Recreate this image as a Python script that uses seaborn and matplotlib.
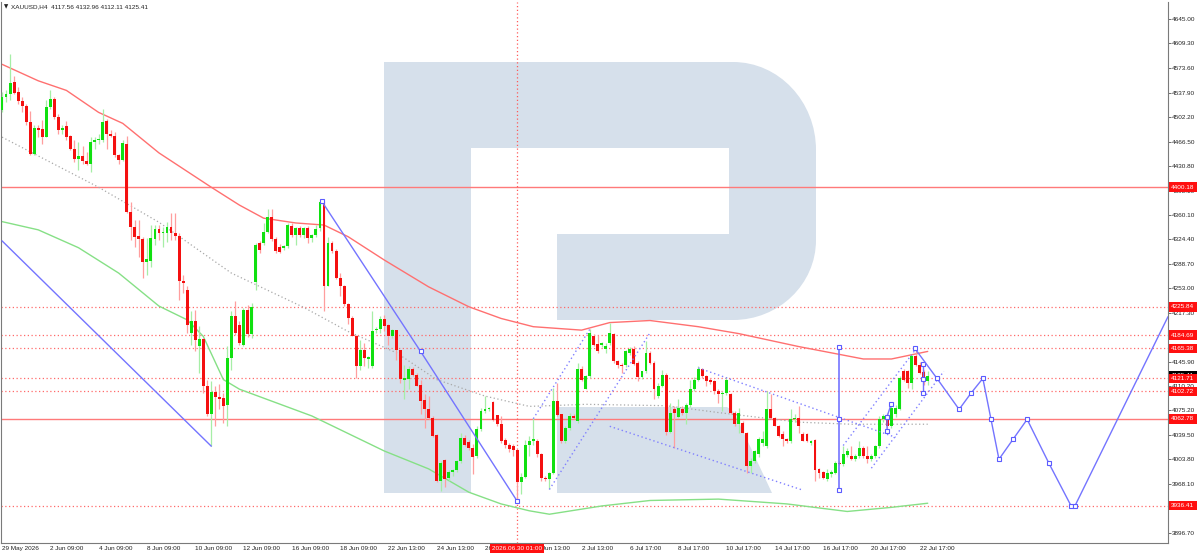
import numpy as np
import pandas as pd
import seaborn as sns
import matplotlib.pyplot as plt
from matplotlib.path import Path
from matplotlib.patches import PathPatch, Polygon

sns.set_style('white')
plt.rcParams['font.family'] = ['Liberation Sans', 'DejaVu Sans']

# H4 candles, XAUUSD
opens = [4511.9, 4531.3, 4536.1, 4553.0, 4538.5, 4525.0, 4518.2, 4495.0, 4449.0, 4486.8,
         4485.3, 4473.2, 4516.8, 4528.9, 4502.2, 4483.9, 4488.7, 4474.2, 4456.3, 4441.8,
         4445.2, 4438.4, 4434.5, 4466.0, 4468.4, 4469.4, 4496.0, 4478.1, 4474.7, 4446.6,
         4439.4, 4463.5, 4364.4, 4341.7, 4329.1, 4325.2, 4291.4, 4293.3, 4325.2, 4338.8,
         4333.0, 4333.9, 4342.6, 4333.0, 4329.1, 4262.8, 4250.7, 4187.8, 4204.8, 4169.5,
         4179.1, 4110.5, 4069.4, 4101.7, 4095.0, 4093.5, 4082.4, 4151.6, 4212.0, 4199.9,
         4170.9, 4221.7, 4186.0, 4262.0, 4318.9, 4318.9, 4334.9, 4356.0, 4324.7, 4312.6,
         4311.2, 4315.0, 4344.1, 4330.5, 4340.2, 4330.5, 4340.2, 4325.7, 4330.5, 4340.2,
         4378.9, 4256.5, 4318.4, 4307.8, 4268.6, 4256.5, 4230.4, 4209.6, 4184.0, 4139.5,
         4162.7, 4150.6, 4139.5, 4191.7, 4194.1, 4208.2, 4199.9, 4183.0, 4192.7, 4162.7,
         4120.1, 4121.1, 4135.6, 4127.4, 4111.4, 4090.1, 4076.6, 4064.5, 4038.9, 3972.6,
         4003.1, 3977.4, 3985.6, 3988.6, 4001.6, 4035.5, 4029.2, 4020.9, 4008.9, 4047.6,
         4074.2, 4076.6, 4087.2, 4067.9, 4054.8, 4032.1, 4024.3, 4023.4, 4017.6, 3970.2,
         3978.4, 4024.3, 4030.6, 4030.6, 4011.3, 3977.4, 3975.0, 3984.7, 4088.7, 4069.3,
         4030.6, 4050.0, 4066.9, 4059.7, 4136.1, 4106.6, 4124.9, 4183.0, 4172.4, 4170.9,
         4164.6, 4173.3, 4186.4, 4147.7, 4141.9, 4141.9, 4158.8, 4164.6, 4144.3, 4124.0,
         4132.2, 4158.8, 4144.3, 4095.9, 4110.5, 4127.4, 4043.7, 4076.6, 4066.0, 4077.6,
         4071.8, 4082.4, 4105.6, 4120.1, 4136.1, 4124.9, 4120.1, 4117.7, 4103.2, 4098.4,
         4100.8, 4098.4, 4071.8, 4054.8, 4057.2, 4042.7, 3994.4, 4001.6, 4011.3, 4028.2,
         4023.4, 4076.6, 4064.5, 4052.4, 4040.3, 4033.1, 4030.6, 4062.1, 4064.5, 4040.3,
         4040.3, 4027.3, 4031.5, 3989.5, 3985.7, 3975.0, 3982.3, 3984.7, 3999.2, 3996.8,
         4009.9, 4008.9, 4005.0, 4008.9, 4021.0, 4008.9, 4004.0, 4008.9, 4023.4, 4062.1,
         4066.9, 4052.4, 4069.3, 4077.6, 4132.2, 4132.2, 4115.3, 4154.0, 4141.9, 4130.8,
         4117.56]
highs = [4538.5, 4541.0, 4594.2, 4561.3, 4545.8, 4531.3, 4521.6, 4511.0, 4490.2, 4490.2,
         4497.4, 4526.4, 4541.0, 4531.3, 4507.1, 4490.2, 4496.0, 4475.6, 4468.4, 4466.0,
         4459.7, 4451.5, 4473.2, 4473.2, 4478.1, 4514.3, 4499.8, 4482.9, 4480.5, 4449.0,
         4468.4, 4474.2, 4378.9, 4352.3, 4352.3, 4328.1, 4325.7, 4345.0, 4345.0, 4345.0,
         4342.6, 4349.9, 4362.0, 4362.0, 4333.9, 4272.5, 4255.6, 4219.3, 4221.7, 4197.5,
         4180.6, 4120.1, 4117.7, 4110.5, 4112.9, 4100.8, 4168.5, 4219.3, 4235.0, 4204.8,
         4224.1, 4228.0, 4232.0, 4319.0, 4322.0, 4348.0, 4367.8, 4367.8, 4328.0, 4318.0,
         4316.0, 4347.5, 4347.5, 4342.0, 4344.0, 4342.0, 4344.0, 4332.0, 4345.0, 4379.9,
         4380.0, 4328.0, 4322.0, 4310.0, 4274.9, 4258.0, 4231.4, 4212.0, 4185.4, 4178.2,
         4173.3, 4155.0, 4219.3, 4196.0, 4212.0, 4214.4, 4201.4, 4193.0, 4192.7, 4163.7,
         4141.9, 4139.5, 4138.0, 4130.0, 4120.1, 4098.4, 4095.9, 4066.9, 4040.3, 4001.6,
         4004.0, 3988.0, 3990.0, 4003.0, 4042.7, 4040.0, 4032.0, 4025.8, 4052.4, 4079.0,
         4095.9, 4080.0, 4088.7, 4069.0, 4066.9, 4035.5, 4027.0, 4025.8, 4018.0, 3984.7,
         4032.1, 4037.9, 4063.5, 4033.0, 4013.0, 3980.0, 3986.0, 4108.0, 4115.3, 4070.0,
         4052.0, 4071.8, 4070.0, 4144.3, 4140.0, 4127.4, 4193.6, 4187.0, 4185.4, 4175.0,
         4173.3, 4202.4, 4187.9, 4149.1, 4144.3, 4163.7, 4168.0, 4168.5, 4146.7, 4133.0,
         4175.8, 4162.0, 4146.7, 4115.3, 4134.6, 4129.8, 4086.3, 4081.4, 4091.1, 4081.4,
         4086.3, 4120.1, 4124.0, 4139.5, 4137.5, 4127.4, 4123.0, 4120.1, 4105.6, 4103.0,
         4124.0, 4100.8, 4074.0, 4079.0, 4060.0, 4043.7, 4006.5, 4018.0, 4036.0, 4045.1,
         4103.2, 4098.4, 4066.0, 4054.0, 4045.1, 4035.0, 4076.6, 4070.0, 4081.4, 4043.0,
         4042.0, 4032.0, 4033.0, 3992.0, 3987.0, 3989.5, 3988.0, 4001.6, 4001.0, 4023.4,
         4021.0, 4023.4, 4012.0, 4030.6, 4024.0, 4023.4, 4012.0, 4025.0, 4066.9, 4070.0,
         4071.8, 4085.3, 4083.0, 4125.0, 4135.0, 4134.6, 4156.5, 4164.6, 4145.0, 4134.6,
         4132.96]
lows = [4509.5, 4524.0, 4526.4, 4536.1, 4521.6, 4509.5, 4490.2, 4446.6, 4446.6, 4473.2,
        4462.6, 4473.2, 4514.3, 4499.8, 4478.1, 4478.1, 4468.4, 4453.9, 4436.9, 4424.9,
        4434.5, 4432.1, 4422.4, 4456.3, 4463.5, 4466.0, 4456.3, 4473.2, 4444.2, 4434.5,
        4438.4, 4362.0, 4323.3, 4313.6, 4299.1, 4267.7, 4272.5, 4284.6, 4316.0, 4323.3,
        4313.6, 4320.9, 4323.3, 4323.3, 4236.2, 4245.9, 4187.8, 4170.9, 4161.3, 4129.8,
        4100.8, 4066.9, 4023.4, 4052.4, 4076.6, 4057.2, 4052.4, 4134.6, 4185.4, 4170.9,
        4168.5, 4182.0, 4180.0, 4250.7, 4305.0, 4316.0, 4333.0, 4322.3, 4305.0, 4304.0,
        4308.0, 4312.0, 4328.1, 4316.0, 4328.0, 4326.0, 4318.4, 4320.0, 4328.0, 4336.0,
        4219.3, 4255.6, 4305.0, 4266.0, 4241.0, 4226.5, 4201.4, 4183.0, 4121.6, 4133.7,
        4139.5, 4137.0, 4137.0, 4188.0, 4187.8, 4190.3, 4170.0, 4180.0, 4149.1, 4115.3,
        4091.1, 4105.6, 4125.0, 4110.0, 4069.3, 4050.0, 4062.0, 4036.5, 3970.2, 3958.1,
        3962.9, 3972.6, 3980.0, 3985.0, 3999.2, 4023.4, 4018.0, 3982.3, 4006.5, 4045.1,
        4071.7, 4074.0, 4059.7, 4052.0, 4028.2, 4020.9, 4015.0, 4008.9, 3942.1, 3953.2,
        3977.4, 4008.9, 4025.0, 4008.0, 3972.6, 3973.0, 3960.5, 3982.3, 4066.9, 4028.2,
        4028.0, 4047.0, 4062.0, 4057.0, 4118.0, 4105.6, 4122.0, 4169.0, 4158.8, 4168.0,
        4158.8, 4170.0, 4144.3, 4137.1, 4129.8, 4139.0, 4156.0, 4141.9, 4117.7, 4121.0,
        4130.0, 4142.0, 4091.1, 4093.5, 4109.5, 4040.0, 4042.7, 4021.0, 4064.5, 4068.0,
        4054.8, 4080.0, 4103.0, 4117.7, 4122.0, 4110.5, 4114.0, 4098.4, 4086.3, 4074.2,
        4098.0, 4069.3, 4052.0, 4042.7, 4042.0, 3984.7, 3984.7, 3998.0, 4008.0, 4023.4,
        4021.0, 4062.0, 4052.0, 4037.0, 4023.4, 4028.0, 4028.2, 4058.0, 4042.7, 4030.0,
        4029.0, 4025.0, 3972.6, 3977.4, 3975.0, 3972.6, 3978.0, 3982.0, 3996.0, 3994.0,
        4007.0, 4003.0, 4002.0, 4006.0, 4006.0, 3999.2, 4001.0, 4006.0, 4021.0, 4058.0,
        4050.0, 4050.0, 4066.0, 4075.0, 4118.0, 4108.0, 4105.6, 4139.5, 4128.0, 4112.0,
        4112.11]
closes = [4531.3, 4536.1, 4551.6, 4537.6, 4525.0, 4517.7, 4495.0, 4449.0, 4486.8, 4482.9,
          4473.2, 4516.8, 4528.9, 4502.2, 4482.9, 4486.8, 4473.2, 4456.3, 4441.8, 4445.2,
          4438.4, 4434.5, 4466.0, 4469.4, 4470.3, 4495.0, 4478.1, 4474.7, 4446.6, 4439.4,
          4464.5, 4364.4, 4342.6, 4328.1, 4325.2, 4291.8, 4295.2, 4325.7, 4338.8, 4333.9,
          4335.4, 4342.6, 4333.0, 4329.1, 4262.8, 4260.4, 4199.9, 4204.8, 4178.2, 4179.1,
          4110.5, 4069.4, 4101.7, 4095.0, 4091.1, 4081.4, 4151.6, 4212.0, 4187.8, 4173.3,
          4221.7, 4186.0, 4226.0, 4316.0, 4308.8, 4334.9, 4356.6, 4325.0, 4306.8, 4306.3,
          4315.0, 4345.0, 4330.5, 4340.2, 4330.5, 4340.2, 4325.7, 4330.5, 4339.2, 4378.9,
          4256.5, 4318.4, 4307.8, 4268.6, 4256.5, 4230.4, 4209.6, 4184.0, 4139.5, 4163.7,
          4151.6, 4152.5, 4191.2, 4194.1, 4208.2, 4198.5, 4183.0, 4191.7, 4162.7, 4121.1,
          4122.1, 4135.6, 4127.4, 4110.4, 4088.7, 4076.6, 4064.5, 4037.9, 3972.6, 3999.2,
          3976.0, 3985.6, 3988.6, 4001.6, 4035.5, 4024.3, 4020.9, 4007.9, 4047.6, 4074.2,
          4076.6, 4077.5, 4061.1, 4054.8, 4030.6, 4024.3, 4018.5, 4017.6, 3970.2, 3978.4,
          4024.3, 4030.6, 4033.0, 4011.3, 3977.4, 3975.0, 3984.7, 4088.7, 4067.9, 4030.6,
          4050.0, 4066.9, 4064.5, 4136.1, 4120.1, 4124.9, 4187.9, 4170.9, 4161.2, 4173.3,
          4169.5, 4187.9, 4146.7, 4141.9, 4139.5, 4161.2, 4164.6, 4143.3, 4124.0, 4132.2,
          4158.8, 4144.3, 4105.6, 4110.5, 4127.4, 4043.7, 4070.8, 4070.8, 4079.0, 4071.8,
          4082.4, 4105.6, 4120.1, 4136.1, 4124.9, 4117.7, 4116.3, 4103.2, 4098.4, 4100.8,
          4120.1, 4071.8, 4054.8, 4071.8, 4042.7, 3994.4, 4001.6, 4016.1, 4033.1, 4033.1,
          4076.6, 4064.5, 4052.4, 4037.9, 4033.1, 4030.6, 4062.1, 4064.5, 4052.4, 4030.6,
          4030.6, 4030.6, 3988.6, 3984.7, 3977.4, 3984.7, 3985.7, 3999.2, 3996.8, 4011.3,
          4016.1, 4004.0, 4008.9, 4021.0, 4008.9, 4004.0, 4008.9, 4023.4, 4062.1, 4066.9,
          4052.4, 4079.0, 4079.0, 4122.5, 4120.1, 4115.3, 4154.0, 4141.9, 4129.8, 4120.1,
          4125.41]

# indicator lines (bar index, price)
ma_red_x = [0, 9, 16, 24, 30, 39, 52, 59, 65, 73, 80, 86, 95, 106, 116, 124, 132, 144,
            151, 161, 173, 183, 198, 214, 221, 230]
ma_red_y = [4579, 4555, 4541, 4509, 4493, 4450, 4400, 4374, 4355, 4348, 4345, 4328, 4294,
            4255, 4226, 4209, 4197, 4192, 4203, 4206, 4197, 4187, 4168, 4150, 4150, 4161]
ma_gray_x = [0, 24, 39, 57, 75, 86, 98, 108, 120, 131, 136, 145, 165, 178, 198, 211, 230]
ma_gray_y = [4473, 4400, 4349, 4275, 4225, 4190, 4159, 4120, 4096, 4081, 4082, 4084, 4082,
             4072, 4058, 4055, 4055]
ma_green_x = [0, 9, 19, 29, 39, 46, 50, 55, 59, 77, 95, 106, 116, 124, 131, 136, 149, 161,
              178, 195, 210, 221, 230]
ma_green_y = [4350, 4338, 4312, 4275, 4227, 4207, 4183, 4120, 4106, 4067, 4016, 3990, 3956,
              3939, 3929, 3924, 3936, 3944, 3946, 3939, 3928, 3934, 3940]

# levels
levels_solid = [4400.18, 4062.78]
levels_dotted = [4225.84, 4184.69, 4165.38, 4121.71, 4102.72, 3936.41]
last_price = 4125.41

# analyst drawings
line_a_x = [0, 52]
line_a_y = [4322, 4023]
line_b_x = [79.4, 104, 128]
line_b_y = [4380, 4161, 3943]
chan_c1_x = [132, 146]
chan_c1_y = [4063, 4193]
chan_c2_x = [136, 161]
chan_c2_y = [3960, 4188]
chan_d_x = [151, 199]
chan_d_y = [4052, 3959]
chan_e_x = [173, 222]
chan_e_y = [4137, 4036]
chan_g1_x = [209, 227]
chan_g1_y = [4024, 4164]
chan_g2_x = [216, 234]
chan_g2_y = [3991, 4132]
vert_x = [208, 208, 208]
vert_y = [4167, 4063, 3959]
brk_x = [228.8, 228.8, 228.8]
brk_y = [4142, 4121, 4101]
zig_x = [219.9, 219.9, 220.9]
zig_y = [4045, 4066, 4084]
fc_x = [226.8, 232.3, 237.8, 240.7, 243.7, 245.7, 247.7, 251.2, 254.7, 260.1, 265.6, 266.6, 289.7]
fc_y = [4165.4, 4121.7, 4076.6, 4099.8, 4121.7, 4062.8, 4004.0, 4033.1, 4062.1, 3998.3,
        3936.4, 3936.4, 4211.6]

x_ticks = [0, 12, 24, 36, 48, 60, 72, 84, 96, 108, 120, 132, 144, 156, 168, 180, 192, 204, 216, 228]
x_labels = ['29 May 2026', '2 Jun 09:00', '4 Jun 09:00', '8 Jun 09:00', '10 Jun 09:00',
            '12 Jun 09:00', '16 Jun 09:00', '18 Jun 09:00', '22 Jun 13:00', '24 Jun 13:00',
            '26 Jun 13:00', '30 Jun 13:00', '2 Jul 13:00', '6 Jul 17:00', '8 Jul 17:00',
            '10 Jul 17:00', '14 Jul 17:00', '16 Jul 17:00', '20 Jul 17:00', '22 Jul 17:00']
y_ticks = [4645.00, 4609.30, 4573.60, 4537.90, 4502.20, 4466.50, 4430.80, 4395.10, 4360.10,
           4324.40, 4288.70, 4253.00, 4217.30, 4181.60, 4145.90, 4110.20, 4075.20, 4039.50,
           4003.80, 3968.10, 3932.40, 3896.70]
cursor_bar = 128
cursor_text = '2026.06.30 01:00'
title_text = 'XAUUSD,H4  4117.56 4132.96 4112.11 4125.41'

FS = 4.6

df = pd.DataFrame({'open': opens, 'high': highs, 'low': lows, 'close': closes})
df['i'] = np.arange(len(df))
up = df['close'] >= df['open']

fig = plt.figure(figsize=(12, 5.55), dpi=100)
ax = fig.add_axes([1 / 1200, 12 / 555, 1167 / 1200, 541 / 555])
ax.set_facecolor('white')

# watermark logo (figure pixel coords)
def px(x, y):
    return (x / 1200, 1 - y / 555)

logo_col = '#d6e0eb'
k = 0.5523
verts = [px(384, 62), px(733, 62),
         px(733 + k * 83, 62), px(816, 150 - k * 88), px(816, 150),
         px(816, 240),
         px(816, 240 + k * 80), px(733 + k * 83, 320), px(733, 320),
         px(557, 320), px(557, 234), px(729, 234), px(729, 148), px(471, 148),
         px(471, 493), px(384, 493), px(384, 62)]
codes = [Path.MOVETO, Path.LINETO,
         Path.CURVE4, Path.CURVE4, Path.CURVE4,
         Path.LINETO,
         Path.CURVE4, Path.CURVE4, Path.CURVE4,
         Path.LINETO, Path.LINETO, Path.LINETO, Path.LINETO, Path.LINETO,
         Path.LINETO, Path.LINETO, Path.CLOSEPOLY]
ax.add_patch(PathPatch(Path(verts, codes), transform=fig.transFigure,
                       facecolor=logo_col, edgecolor='none', zorder=0.2))
ax.add_patch(Polygon([px(557, 407), px(727, 407), px(734, 412), px(772, 493), px(557, 493)],
                     closed=True, transform=fig.transFigure,
                     facecolor=logo_col, edgecolor='none', zorder=0.2))

# horizontal levels and cursor line
for lv in levels_solid:
    ax.axhline(lv, color='#ff7a7a', lw=1.0, zorder=1)
for lv in levels_dotted:
    ax.axhline(lv, color='#ff6a6a', lw=0.9, ls=(0, (1, 2)), zorder=1)
ax.axvline(cursor_bar, color='#ff5a5a', lw=0.9, ls=(0, (1, 2)), zorder=1)

# indicators
sns.lineplot(x=ma_red_x, y=ma_red_y, ax=ax, color='#ff7070', lw=1.0, zorder=2)
sns.lineplot(x=ma_gray_x, y=ma_gray_y, ax=ax, color='#a8a8a8', lw=0.9, ls=(0, (1, 2)), zorder=2)
sns.lineplot(x=ma_green_x, y=ma_green_y, ax=ax, color='#86e086', lw=1.0, zorder=2)

# candles
wick_col = np.where(up, '#a6eea6', '#ff9e9e')
body_col = np.where(up, '#10e010', '#f41010')
ax.vlines(df['i'], df['low'], df['high'], colors=wick_col, lw=0.9, zorder=3)
body_h = np.maximum((df['close'] - df['open']).abs(), 1.4)
body_b = np.minimum(df['open'], df['close'])
ax.bar(df['i'], body_h, bottom=body_b, width=0.72, color=body_col, linewidth=0, zorder=4)

# drawings
blue = '#7474ff'
mk = dict(marker='s', markersize=3.2, markerfacecolor='white', markeredgecolor='#5c5cff',
          markeredgewidth=0.8)
sns.lineplot(x=line_a_x, y=line_a_y, ax=ax, color=blue, lw=1.0, zorder=5)
sns.lineplot(x=line_b_x, y=line_b_y, ax=ax, color=blue, lw=1.0, zorder=5, **mk)
for cx, cy in [(chan_c1_x, chan_c1_y), (chan_c2_x, chan_c2_y), (chan_d_x, chan_d_y),
               (chan_e_x, chan_e_y), (chan_g1_x, chan_g1_y), (chan_g2_x, chan_g2_y)]:
    sns.lineplot(x=cx, y=cy, ax=ax, color='#8080ff', lw=1.0, ls=(0, (1, 2)), zorder=5)
sns.lineplot(x=vert_x, y=vert_y, ax=ax, color=blue, lw=1.2, zorder=5,
             estimator=None, sort=False, **mk)
sns.lineplot(x=brk_x, y=brk_y, ax=ax, color=blue, lw=1.0, zorder=5,
             estimator=None, sort=False, **mk)
sns.lineplot(x=zig_x, y=zig_y, ax=ax, color=blue, lw=1.0, zorder=5,
             estimator=None, sort=False, **mk)
sns.lineplot(x=fc_x, y=fc_y, ax=ax, color=blue, lw=1.0, zorder=5, estimator=None, sort=False)
sns.lineplot(x=fc_x[:-1], y=fc_y[:-1], ax=ax, color=blue, lw=0, zorder=6,
             estimator=None, sort=False, **mk)

ax.set_xlim(-0.25, 289.7)
ax.set_ylim(3882.1, 4669.7)

# axes styling
for s in ['left', 'right', 'bottom']:
    ax.spines[s].set_color('#7a7a7a')
    ax.spines[s].set_linewidth(0.8)
ax.spines['top'].set_visible(False)
ax.yaxis.tick_right()
ax.set_yticks(y_ticks)
ax.set_yticklabels([f'{v:.2f}' for v in y_ticks])
ax.set_xticks(x_ticks)
ax.set_xticklabels(x_labels, ha='left')
ax.tick_params(axis='both', direction='out', length=2, width=0.6, color='#555555',
               labelsize=FS, pad=0.5, labelcolor='#222222')
ax.set_xlabel('')
ax.set_ylabel('')

# price labels on the right scale
ytr = ax.get_yaxis_transform()
ax.text(1.0028, last_price, f'{last_price:.2f}', transform=ytr, ha='left', va='center',
        fontsize=FS, color='white', clip_on=False, zorder=7,
        bbox=dict(boxstyle='square,pad=0.35', fc='black', ec='none'))
for lv in levels_solid + levels_dotted:
    ax.text(1.0028, lv, f'{lv:.2f}', transform=ytr, ha='left', va='center',
            fontsize=FS, color='white', clip_on=False, zorder=8,
            bbox=dict(boxstyle='square,pad=0.35', fc='#ff1010', ec='none'))

# cursor time label
xtr = ax.get_xaxis_transform()
ax.text(cursor_bar, -0.0105, cursor_text, transform=xtr, ha='center', va='center',
        fontsize=FS, color='white', clip_on=False, zorder=8,
        bbox=dict(boxstyle='square,pad=0.35', fc='#ff1010', ec='none'))

# header
fig.text(4 / 1200, 1 - 7 / 555, '\u25bc', fontsize=4, color='#222222', va='center',
         family=['DejaVu Sans'])
fig.text(11 / 1200, 1 - 7 / 555, title_text, fontsize=FS, color='#222222', va='center')

fig.savefig('out.png', dpi=100)
